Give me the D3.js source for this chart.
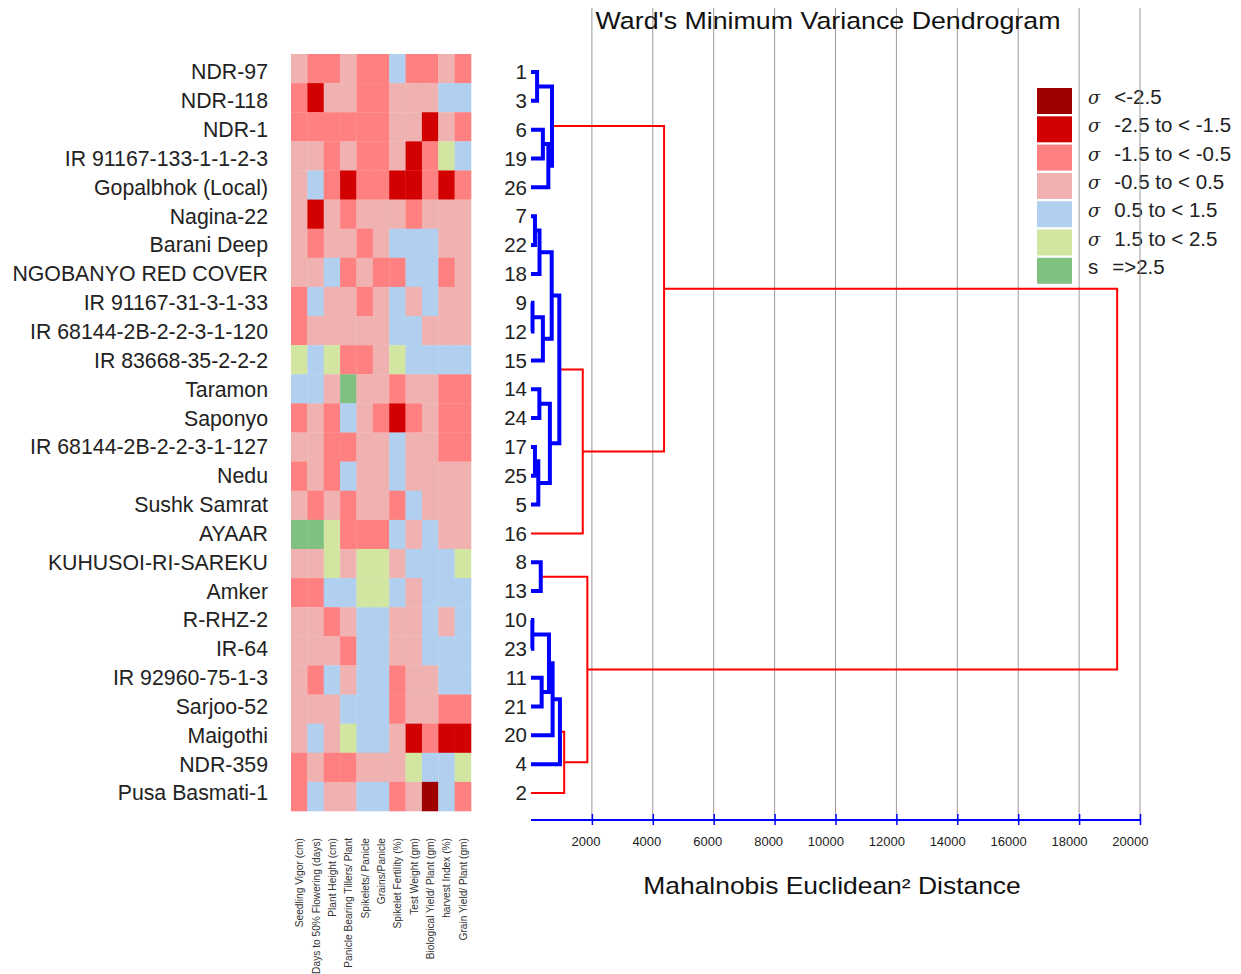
<!DOCTYPE html>
<html><head><meta charset="utf-8">
<script src="https://cdn.jsdelivr.net/npm/d3@7"></script>
<style>
body{margin:0;background:#fff}
text{font-family:"Liberation Sans",Arial,Helvetica,sans-serif}
</style>
</head><body>
<svg id="c" width="1241" height="974"></svg>
<script>
// ---------------- DATA ----------------
const genotypes = ["NDR-97","NDR-118","NDR-1","IR 91167-133-1-1-2-3","Gopalbhok (Local)","Nagina-22","Barani Deep",
  "NGOBANYO RED COVER","IR 91167-31-3-1-33","IR 68144-2B-2-2-3-1-120","IR 83668-35-2-2-2","Taramon","Saponyo",
  "IR 68144-2B-2-2-3-1-127","Nedu","Sushk Samrat","AYAAR","KUHUSOI-RI-SAREKU","Amker","R-RHZ-2","IR-64",
  "IR 92960-75-1-3","Sarjoo-52","Maigothi","NDR-359","Pusa Basmati-1"];
const leafIds = [1,3,6,19,26,7,22,18,9,12,15,14,24,17,25,5,16,8,13,10,23,11,21,20,4,2];
const traits = ["Seedling Vigor (cm)","Days to 50% Flowering (days)","Plant Height (cm)","Panicle Bearing Tillers/ Plant",
  "Spikelets/ Panicle","Grains/Panicle","Spikelet Fertility (%)","Test Weight (gm)","Biological Yield/ Plant (gm)",
  "harvest Index (%)","Grain Yield/ Plant (gm)"];
// standardized class per cell: -3 (<-2.5) ... 3 (=>2.5)
const heat = [
  [ 0,-1,-1, 0,-1,-1, 1,-1,-1, 0,-1],
  [-1,-2, 0, 0,-1,-1, 0, 0, 0, 1, 1],
  [-1,-1,-1,-1,-1,-1, 0, 0,-2, 0,-1],
  [ 0, 0,-1, 0,-1,-1, 0,-2,-1, 2, 1],
  [ 0, 1,-1,-2,-1,-1,-2,-2,-1,-2,-1],
  [ 0,-2, 0,-1, 0, 0, 0,-1, 0, 0, 0],
  [ 0,-1, 0, 0,-1, 0, 1, 1, 1, 0, 0],
  [ 0, 0, 1,-1, 0,-1,-1, 1, 1,-1, 0],
  [-1, 1, 0, 0,-1, 0, 1, 0, 1, 0, 0],
  [-1, 0, 0, 0, 0, 0, 1, 1, 0, 0, 0],
  [ 2, 1, 2,-1,-1, 0, 2, 1, 1, 1, 1],
  [ 1, 1, 0, 3, 0, 0,-1, 0, 0,-1,-1],
  [-1, 0,-1, 1, 0,-1,-2,-1, 0,-1,-1],
  [ 0, 0,-1,-1, 0, 0, 1, 0, 0,-1,-1],
  [-1, 0,-1, 1, 0, 0, 1, 0, 0, 0, 0],
  [ 0,-1, 0,-1, 0, 0,-1, 1, 0, 0, 0],
  [ 3, 3, 2,-1,-1,-1, 1, 0, 1, 0, 0],
  [ 0, 0, 2, 0, 2, 2, 0, 1, 1, 1, 2],
  [-1,-1, 1, 1, 2, 2, 1, 0, 1, 1, 1],
  [ 0, 0,-1, 0, 1, 1, 0, 0, 1, 0, 1],
  [ 0, 0, 0,-1, 1, 1, 0, 0, 1, 1, 1],
  [ 0,-1, 1, 0, 1, 1,-1, 0, 0, 1, 1],
  [ 0, 0, 0, 1, 1, 1,-1, 0, 0,-1,-1],
  [ 0, 1, 0, 2, 1, 1, 0,-2,-1,-2,-2],
  [-1, 0,-1,-1, 0, 0, 0, 2, 1, 1, 2],
  [-1, 1, 0, 0, 1, 1,-1, 0,-3, 1,-1]
];
const legendCodes = [-3,-2,-1,0,1,2,3];
const legendSymbols = ["σ","σ","σ","σ","σ","σ","s"];
const legendLabels = ["<-2.5","-2.5 to < -1.5","-1.5 to < -0.5","-0.5 to < 0.5","0.5 to < 1.5","1.5 to < 2.5","=>2.5"];
// hclust-style merges: negative = leaf id, positive = earlier merge (1-based); [left, right, height]
const merges = [
  [-1,-3,200],[-6,-19,390],[2,-26,570],[1,3,690],
  [-7,-22,130],[5,-18,280],[-9,-12,50],[7,-15,390],[6,8,680],
  [-14,-24,275],[-17,-25,130],[11,-5,240],[10,12,620],[9,13,930],
  [14,-16,1700],[4,15,4370],
  [-8,-13,320],[-10,-23,45],[-11,-21,350],[18,19,590],[20,-20,710],
  [21,-4,950],[22,-2,1090],[17,23,1850],[16,24,19250]
];
const distTicks = [2000,4000,6000,8000,10000,12000,14000,16000,18000,20000];
const titleText = "Ward's Minimum Variance Dendrogram";
const xTitleText = "Mahalnobis Euclidean² Distance";

// ---------------- DRAW ----------------
const svg = d3.select("#c");
const colorScale = d3.scaleOrdinal().domain(legendCodes)
  .range(["#9e0000","#d20000","#ff8080","#f0b1b1","#b1cfee","#d3e6a1","#80c080"]);

const rows = d3.range(genotypes.length);
const yLab = d3.scalePoint().domain(rows).range([72, 793]);
const yCell = d3.scaleBand().domain(rows).range([54, 811]);
const xCell = d3.scaleBand().domain(traits).range([291, 471]);
const xDist = d3.scaleLinear().domain([0, 20000]).range([531, 1140]);

// heatmap
const hm = svg.append("g");
heat.forEach((row, i) => {
  hm.selectAll(null).data(row).join("rect")
    .attr("x", (d, j) => xCell(traits[j]))
    .attr("y", yCell(i))
    .attr("width", xCell.bandwidth() + 0.3)
    .attr("height", yCell.bandwidth() + 0.3)
    .attr("fill", d => colorScale(d));
});

// genotype labels
svg.append("g").selectAll("text").data(genotypes).join("text")
  .attr("x", 268).attr("y", (d, i) => yLab(i)).attr("dy", "0.35em")
  .attr("text-anchor", "end").attr("font-size", 21.3).attr("fill", "#222")
  .text(d => d);

// trait labels
svg.append("g").selectAll("text").data(traits).join("text")
  .attr("transform", d => `translate(${xCell(d) + xCell.bandwidth() / 2 + 4},838) rotate(-90)`)
  .attr("text-anchor", "end")
  .attr("font-size", 10.2)
  .style("font-family", "'Liberation Sans Narrow','Arial Narrow',sans-serif")
  .attr("fill", "#333")
  .text(d => d);

// gridlines
const grid = svg.append("g");

// legend
const lg = svg.append("g");
legendCodes.forEach((c, i) => {
  const y0 = 88 + i * 28.3;
  lg.append("rect").attr("x", 1037).attr("y", y0).attr("width", 35).attr("height", 26)
    .attr("fill", colorScale(c));
  const t = lg.append("text").attr("x", 1088).attr("y", y0 + 16).attr("font-size", 20.5).attr("fill", "#222");
  const sym = t.append("tspan").text(legendSymbols[i]);
  if (legendSymbols[i] === "σ") {
    sym.style("font-family", "'DejaVu Serif',serif").attr("font-style", "italic").attr("font-size", 18);
  }
  t.append("tspan").attr("dx", 14).text(legendLabels[i]);
});

grid.raise();
grid.selectAll("line").data(distTicks).join("line")
  .attr("x1", d => xDist(d)).attr("x2", d => xDist(d))
  .attr("y1", 8).attr("y2", 820)
  .attr("stroke", "#9a9a9a").attr("stroke-width", 1);

// leaf numbers
svg.append("g").selectAll("text").data(leafIds).join("text")
  .attr("x", 527).attr("y", (d, i) => yLab(i)).attr("dy", "0.35em")
  .attr("text-anchor", "end").attr("font-size", 20.5).attr("fill", "#222")
  .text(d => d);

// dendrogram
const nodes = [];
const posOf = ref => ref < 0
  ? { x: xDist(0), y: yLab(leafIds.indexOf(-ref)) }
  : nodes[ref - 1];
merges.forEach(([a, b, h]) => {
  const pa = posOf(a), pb = posOf(b);
  nodes.push({ x: xDist(h), y: (pa.y + pb.y) / 2, pa, pb, h });
});
const dg = svg.append("g").attr("fill", "none");
const sorted = nodes.slice().sort((m, n) => (n.h > 1000) - (m.h > 1000));
dg.selectAll("path").data(sorted).join("path")
  .attr("d", n => `M${n.pa.x},${n.pa.y}H${n.x}V${n.pb.y}H${n.pb.x}`)
  .attr("stroke", n => n.h > 1000 ? "#ff0000" : "#0000ff")
  .attr("stroke-width", n => n.h > 1000 ? 2 : 4)
  .attr("stroke-linejoin", "miter").attr("stroke-linecap", "butt");

// x axis
const ax = svg.append("g").attr("transform", "translate(0,820)")
  .call(d3.axisBottom(xDist).tickValues(distTicks).tickSizeOuter(0).tickSize(6).tickFormat(d3.format("d")));
ax.select(".domain").attr("stroke", "#0000ff").attr("stroke-width", 2).attr("d", `M${xDist(0)},0H${xDist(20000)}`);
ax.selectAll(".tick line").attr("stroke", "#0000ff").attr("stroke-width", 1.5).attr("y1", -6).attr("y2", 5);
ax.selectAll(".tick text").attr("fill", "#222").attr("font-size", 13)
  .attr("text-anchor", "end").attr("x", 8).attr("y", 17)
  .style("font-family", "'Liberation Sans',Arial,sans-serif");

// titles (source figure is horizontally stretched)
svg.append("text").attr("transform", "translate(828,29) scale(1.14,1)").attr("text-anchor", "middle")
  .attr("font-size", 23.5).attr("fill", "#111").text(titleText);
svg.append("text").attr("transform", "translate(832,894) scale(1.15,1)").attr("text-anchor", "middle")
  .attr("font-size", 23).attr("fill", "#111").text(xTitleText);
</script>
</body></html>
